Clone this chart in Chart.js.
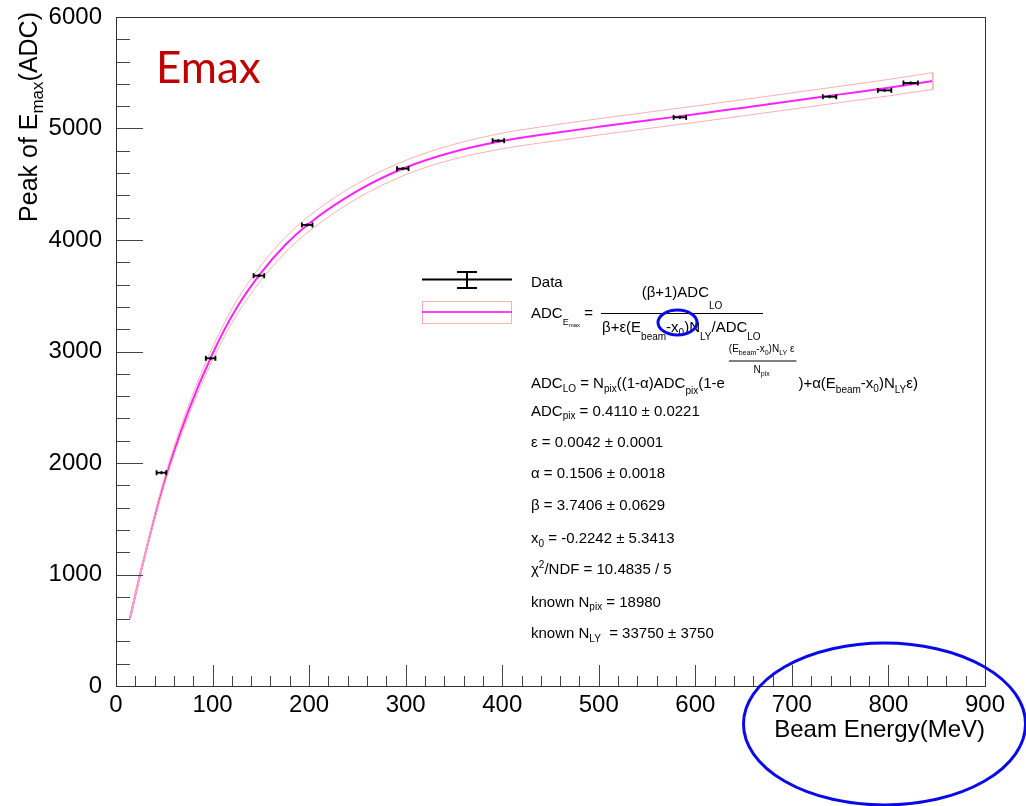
<!DOCTYPE html>
<html>
<head>
<meta charset="utf-8">
<title>Peak of Emax vs Beam Energy</title>
<script src="https://cdn.jsdelivr.net/npm/chart.js@4.4.1/dist/chart.umd.min.js"></script>
<style>
  html,body{margin:0;padding:0;background:#fff;}
  #c{display:block;}
</style>
</head>
<body>
<canvas id="c" width="1026" height="806"></canvas>
<script>
// measured points: beam energy (MeV) vs peak of Emax (ADC)
const dataX    = [47, 98, 148, 198, 297, 396, 584, 739, 796, 823];
const dataY    = [1913, 2939, 3680, 4135, 4640, 4891, 5100, 5285, 5342, 5408];
const dataXErr = [5, 5, 5.5, 5.5, 6, 6, 6.5, 7, 7, 7.5];
const dataYErr = [14, 14, 14, 14, 14, 14, 14, 14, 14, 14];

// fit curve and its error band
const fitX   = [14.5, 25, 50, 75, 100, 125, 150, 175, 200, 250, 300, 350, 400, 450, 500, 550, 600, 650, 700, 750, 800, 846];
const fitY   = [607, 1000, 1830, 2467, 2980, 3392, 3703, 3953, 4148, 4440, 4650, 4792, 4888, 4955, 5015, 5072, 5128, 5187, 5246, 5306, 5366, 5426];
const bandHi = [615, 1015, 1862, 2515, 3038, 3456, 3770, 4021, 4216, 4506, 4714, 4858, 4958, 5027, 5088, 5145, 5201, 5260, 5319, 5379, 5440, 5501];
const bandLo = [599, 985, 1798, 2419, 2922, 3328, 3636, 3885, 4080, 4374, 4586, 4726, 4818, 4883, 4942, 4999, 5055, 5114, 5173, 5233, 5292, 5351];

// axis ticks
const xTickVals = [0, 100, 200, 300, 400, 500, 600, 700, 800, 900];
const yTickVals = [0, 1000, 2000, 3000, 4000, 5000, 6000];
const xMinorStep = 20;
const yMinorStep = 200;

const FONT = '"Liberation Sans", Arial, Helvetica, sans-serif';

const pts = (xs, ys) => xs.map((x, i) => ({x, y: ys[i]}));

// draw a run of text segments [text, size, dy]
function run(ctx, x, y, segs){
  segs.forEach(([t, size, dy]) => {
    ctx.font = size + 'px ' + FONT;
    ctx.fillText(t, x, y + dy);
    x += ctx.measureText(t).width;
  });
  return x;
}
function runWidth(ctx, segs){
  let w = 0;
  segs.forEach(([t, size]) => { ctx.font = size + 'px ' + FONT; w += ctx.measureText(t).width; });
  return w;
}
const n  = t => [t, 15, 0];
const sb = (t, dy) => [t, 10, dy == null ? 4 : dy];
const sp = t => [t, 10, -6];

function line(ctx, x1, y1, x2, y2){
  ctx.beginPath(); ctx.moveTo(x1, y1); ctx.lineTo(x2, y2); ctx.stroke();
}

const errorBars = {
  id: 'errorBars',
  afterDatasetsDraw(chart){
    const ctx = chart.ctx, xs = chart.scales.x, ys = chart.scales.y;
    ctx.save();
    ctx.strokeStyle = '#000'; ctx.lineWidth = 1.8;
    dataX.forEach((x, i) => {
      const px = xs.getPixelForValue(x), py = ys.getPixelForValue(dataY[i]);
      const l = xs.getPixelForValue(x - dataXErr[i]), r = xs.getPixelForValue(x + dataXErr[i]);
      const t = ys.getPixelForValue(dataY[i] + dataYErr[i]), b = ys.getPixelForValue(dataY[i] - dataYErr[i]);
      line(ctx, l, py, r, py);
      line(ctx, l, py - 2.5, l, py + 2.5);
      line(ctx, r, py - 2.5, r, py + 2.5);
      line(ctx, px, t, px, b);
    });
    ctx.restore();
  }
};

const rootFrame = {
  id: 'rootFrame',
  afterDraw(chart){
    const ctx = chart.ctx, a = chart.chartArea, xs = chart.scales.x, ys = chart.scales.y;
    ctx.save();
    // ticks inside the frame
    ctx.strokeStyle = '#444'; ctx.lineWidth = 1;
    for (let v = xs.min; v <= xs.max; v += xMinorStep){
      const px = Math.round(xs.getPixelForValue(v)) + 0.5;
      const len = xTickVals.includes(v) ? 21 : 10;
      line(ctx, px, a.bottom, px, a.bottom - len);
    }
    for (let v = ys.min; v <= ys.max; v += yMinorStep){
      const py = Math.round(ys.getPixelForValue(v)) + 0.5;
      const len = yTickVals.includes(v) ? 27 : 14;
      line(ctx, a.left, py, a.left + len, py);
    }
    // frame
    ctx.strokeStyle = '#333';
    ctx.strokeRect(Math.round(a.left) + 0.5, Math.round(a.top) + 0.5, Math.round(a.right - a.left), Math.round(a.bottom - a.top));

    // axis titles
    ctx.fillStyle = '#000';
    ctx.font = '24px ' + FONT;
    ctx.textAlign = 'right';
    ctx.fillText('Beam Energy(MeV)', a.right, 737);
    ctx.textAlign = 'left';
    const ySegs = [['Peak of E', 25, 0], ['max', 17, 6], ['(ADC)', 25, 0]];
    ctx.save();
    ctx.translate(37, 12);
    ctx.rotate(-Math.PI / 2);
    run(ctx, -runWidth(ctx, ySegs), 0, ySegs);
    ctx.restore();

    // big red label
    ctx.fillStyle = '#c00000';
    ctx.font = '44px Lato, "Open Sans", sans-serif';
    ctx.fillText('Emax', 156, 83);

    // legend symbols
    ctx.strokeStyle = '#000'; ctx.lineWidth = 2;
    line(ctx, 422, 279.5, 512, 279.5);
    line(ctx, 467, 272, 467, 288);
    line(ctx, 457, 272, 477, 272);
    line(ctx, 457, 288, 477, 288);
    ctx.strokeStyle = '#ffb0b0'; ctx.lineWidth = 1;
    ctx.strokeRect(422.5, 301.5, 89, 22);
    ctx.strokeStyle = '#ff00ff'; ctx.lineWidth = 1.5;
    line(ctx, 422, 312, 512, 312);

    // legend text
    ctx.fillStyle = '#000';
    run(ctx, 531, 287, [n('Data')]);
    run(ctx, 531, 318, [n('ADC'), ['E', 9, 7], ['max', 6, 8.5], n(' =')]);
    const num = [n('(\u03b2+1)ADC'), sb('LO', 12)];
    run(ctx, 682 - runWidth(ctx, num) / 2, 297, num);
    ctx.strokeStyle = '#000'; ctx.lineWidth = 1.2;
    line(ctx, 601, 313.5, 763, 313.5);
    run(ctx, 602, 332, [n('\u03b2+\u03b5(E'), sb('beam', 8), n('-x'), sb('0', 4), n(')N'), sb('LY', 8), n('/ADC'), sb('LO', 8)]);

    // ADC_LO expression with fractional exponent
    let x = run(ctx, 531, 388, [n('ADC'), sb('LO', 4), n(' = N'), sb('pix', 4), n('((1-\u03b1)ADC'), sb('pix', 6), n('(1-e')]);
    const ex = x + 4;
    const expNum = [['(E', 10, 0], ['beam', 7, 3], ['-x', 10, 0], ['0', 7, 3], [')N', 10, 0], ['LY', 7, 3], [' \u03b5', 10, 0]];
    const wNum = runWidth(ctx, expNum);
    run(ctx, ex, 352, expNum);
    ctx.lineWidth = 1;
    line(ctx, ex, 361, ex + wNum + 2, 361);
    const expDen = [['N', 10, 0], ['pix', 7, 3]];
    run(ctx, ex + (wNum - runWidth(ctx, expDen)) / 2, 373, expDen);
    run(ctx, ex + wNum + 4, 388, [n(')+\u03b1(E'), sb('beam', 5), n('-x'), sb('0', 4), n(')N'), sb('LY', 5), n('\u03b5)')]);

    // fit parameters
    run(ctx, 531, 416, [n('ADC'), sb('pix', 3), n(' = 0.4110 \u00b1 0.0221')]);
    run(ctx, 531, 447, [n('\u03b5 = 0.0042 \u00b1 0.0001')]);
    run(ctx, 531, 478, [n('\u03b1 = 0.1506 \u00b1 0.0018')]);
    run(ctx, 531, 510, [n('\u03b2 = 3.7406 \u00b1 0.0629')]);
    run(ctx, 531, 542.5, [n('x'), sb('0', 4), n(' = -0.2242 \u00b1 5.3413')]);
    run(ctx, 531, 574, [n('\u03c7'), sp('2'), n('/NDF = 10.4835 / 5')]);
    run(ctx, 531, 606.5, [n('known N'), sb('pix', 3), n(' = 18980')]);
    run(ctx, 531, 638, [n('known N'), sb('LY', 4), n('  = 33750 \u00b1 3750')]);

    // blue annotation ellipses
    ctx.strokeStyle = '#0a0ae6'; ctx.lineWidth = 3;
    ctx.beginPath(); ctx.ellipse(677.5, 322.5, 19.5, 12.5, 0, 0, Math.PI * 2); ctx.stroke();
    ctx.beginPath(); ctx.ellipse(884.5, 724, 141, 81, 0, 0, Math.PI * 2); ctx.stroke();
    ctx.restore();
  }
};

const last = fitX.length - 1;

new Chart(document.getElementById('c'), {
  type: 'line',
  data: {
    datasets: [
      { data: pts(fitX, bandHi), borderColor: '#ffb0b0', borderWidth: 1, pointRadius: 0, cubicInterpolationMode: 'monotone' },
      { data: pts(fitX, bandLo), borderColor: '#ffb0b0', borderWidth: 1, pointRadius: 0, cubicInterpolationMode: 'monotone' },
      { data: [{x: fitX[last], y: bandHi[last]}, {x: fitX[last], y: bandLo[last]}], borderColor: '#ffb0b0', borderWidth: 1, pointRadius: 0 },
      { data: pts(fitX, fitY), borderColor: '#ff22ff', borderWidth: 2, pointRadius: 0, cubicInterpolationMode: 'monotone' },
      { data: pts(dataX, dataY), showLine: false, pointRadius: 0 }
    ]
  },
  options: {
    responsive: false,
    animation: false,
    layout: { padding: { left: 0, right: 41, top: 17, bottom: 0 } },
    plugins: { legend: { display: false }, tooltip: { enabled: false } },
    scales: {
      x: {
        type: 'linear', min: 0, max: 900,
        afterBuildTicks: s => { s.ticks = xTickVals.map(v => ({value: v})); },
        afterFit: s => { s.height = 120; },
        grid: { display: false }, border: { display: false },
        ticks: { color: '#000', padding: -3, maxRotation: 0, font: { family: FONT, size: 24 }, callback: v => String(v) }
      },
      y: {
        min: 0, max: 6000,
        afterBuildTicks: s => { s.ticks = yTickVals.map(v => ({value: v})); },
        afterFit: s => { s.width = 116; },
        grid: { display: false }, border: { display: false },
        ticks: { color: '#000', padding: 6, font: { family: FONT, size: 24, lineHeight: 0.9 }, callback: v => String(v) }
      }
    }
  },
  plugins: [errorBars, rootFrame]
});
</script>
</body>
</html>
